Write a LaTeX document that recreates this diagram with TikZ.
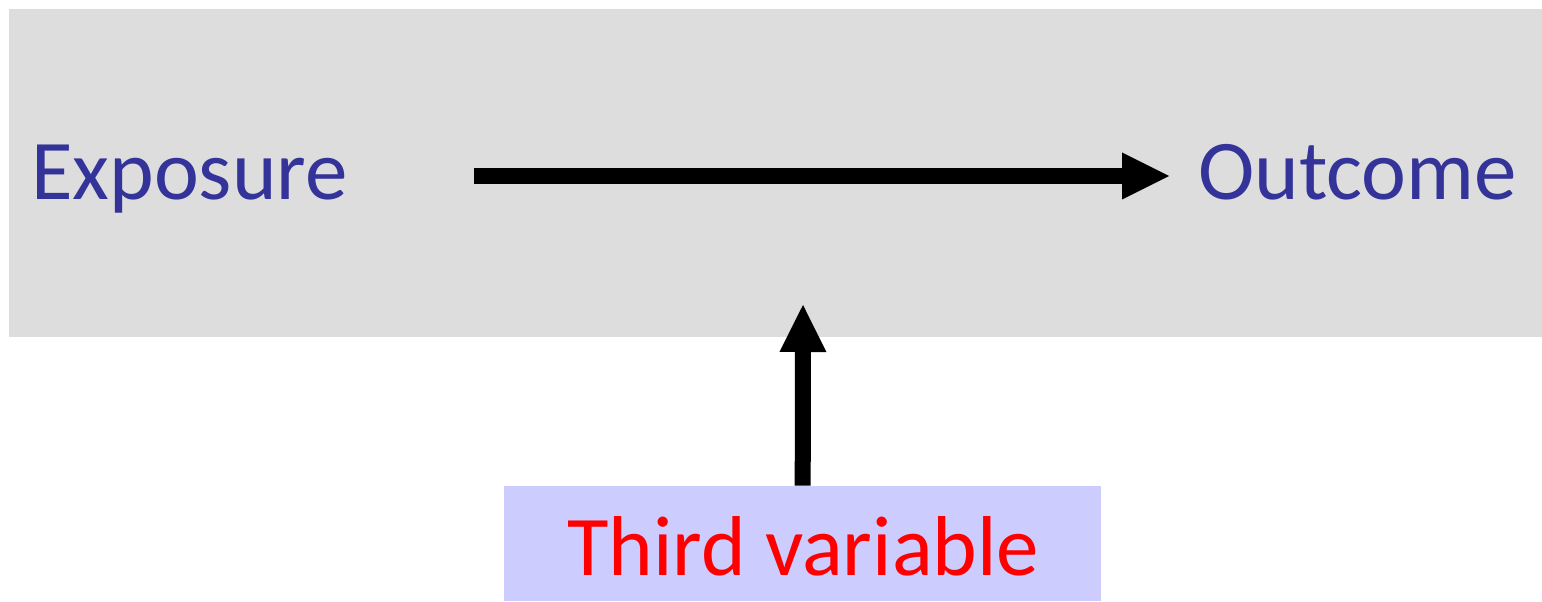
\documentclass[tikz,border=0pt]{standalone}
\usepackage{fontspec}
\setmainfont{Carlito}
\usetikzlibrary{arrows.meta}
\definecolor{panelgray}{HTML}{DDDDDD}
\definecolor{lavender}{HTML}{CCCCFF}
\definecolor{labelblue}{HTML}{333399}
\definecolor{thirdred}{HTML}{FF0000}
\tikzset{
  bigarrow/.style={line width=16pt, -{Triangle[length=47pt,width=47pt,line width=0pt]}},
  varlabel/.style={inner sep=0pt, anchor=base west, text=labelblue, font=\fontsize{85}{90}\selectfont},
}
\begin{document}
\begin{tikzpicture}[x=1pt,y=1pt]
\useasboundingbox (0,0) rectangle (1542,602);
\fill[panelgray] (9,265) rectangle (1542,593);
\node[varlabel] (expo) at (31,402) {Exposure};
\node[varlabel] (outc) at (1198,402) {Outcome};
\node[fill=lavender, inner sep=0pt, minimum width=597pt, minimum height=115pt, anchor=south west] (third) at (504,1) {};
\node[inner sep=0pt, anchor=base west, text=thirdred, font=\fontsize{85}{90}\selectfont] (thirdtxt) at (567,26) {Third variable};
\coordinate (hs) at (474,426);
\coordinate (he) at (1169,426);
\coordinate (vt) at (803,297);
\draw[bigarrow] (hs) -- (he);
\draw[bigarrow] (third.north) -- (vt);
\end{tikzpicture}
\end{document}
